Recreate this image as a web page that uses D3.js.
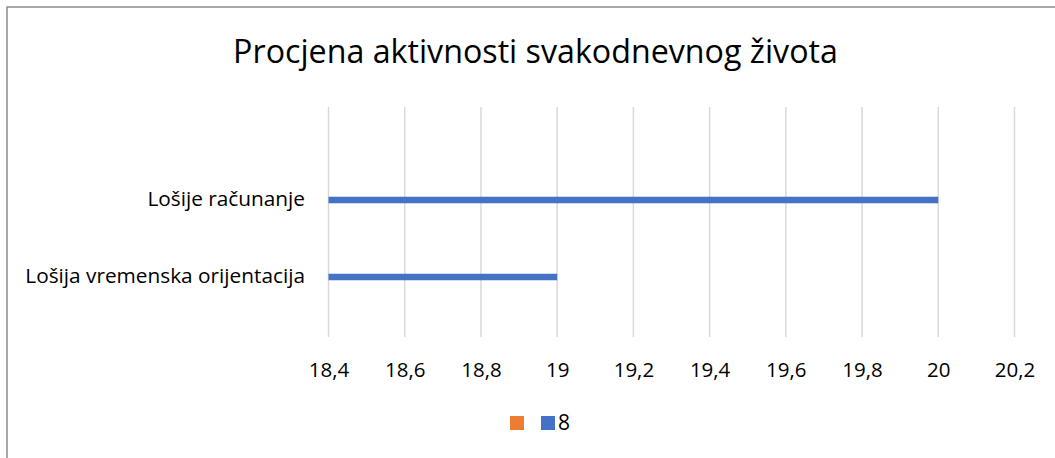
<!DOCTYPE html>
<html>
<head>
<meta charset="utf-8">
<script src="https://cdn.jsdelivr.net/npm/d3@7"></script>
<style>
  html, body { margin: 0; padding: 0; background: #fff; }
  svg { display: block; }
  text { font-family: "Open Sans", "Noto Sans", sans-serif; fill: #000; }
</style>
</head>
<body>
<svg id="chart" width="1055" height="458"></svg>
<script>
const title = "Procjena aktivnosti svakodnevnog života";
const categories = ["Lošija vremenska orijentacija", "Lošije računanje"];
const seriesNames = ["", "8"];
const seriesOrange = [null, null];
const seriesBlue = [19, 20];
const xTicks = [18.4, 18.6, 18.8, 19, 19.2, 19.4, 19.6, 19.8, 20, 20.2];
const xDomain = [18.4, 20.2];
const colors = ["#ED7D31", "#4472C4"];

const svg = d3.select("#chart");
const W = 1055, H = 458;

// outer border (only top/left visible in the frame)
svg.append("rect")
  .attr("x", 7).attr("y", 7)
  .attr("width", W + 20).attr("height", H + 20)
  .attr("fill", "#fff")
  .attr("stroke", "#8c8c8c")
  .attr("stroke-width", 1.5);

function fitText(sel, targetWidth) {
  sel.attr("font-size", 100);
  const w = sel.node().getComputedTextLength();
  sel.attr("font-size", 100 * targetWidth / w);
}

// title
const t = svg.append("text")
  .attr("x", 535.5).attr("y", 63)
  .attr("text-anchor", "middle")
  .text(title);
fitText(t, 605);

const x = d3.scaleLinear().domain(xDomain).range([328.5, 1014.5]);
const y = d3.scalePoint().domain(categories.slice().reverse()).range([200, 277]);
const gridTop = 107, gridBottom = 337;

// gridlines
svg.append("g").selectAll("line")
  .data(xTicks)
  .join("line")
  .attr("x1", d => x(d)).attr("x2", d => x(d))
  .attr("y1", gridTop).attr("y2", gridBottom)
  .attr("stroke", "#d9d9d9")
  .attr("stroke-width", 1.5);

// x axis labels via d3 axis
const axis = d3.axisBottom(x)
  .tickValues(xTicks)
  .tickSize(0)
  .tickPadding(0)
  .tickFormat(d => String(d).replace(".", ","));
const ax = svg.append("g").attr("transform", "translate(0,377)").call(axis);
ax.select(".domain").remove();
ax.selectAll("text")
  .attr("dy", 0)
  .attr("fill", "#000")
  .attr("font-family", "'Open Sans', 'Noto Sans', sans-serif")
  .attr("font-size", 20.5);

// bars
const barH = 6.5;
[seriesOrange, seriesBlue].forEach((vals, si) => {
  svg.append("g").selectAll("rect")
    .data(categories.map((c, i) => ({ c, v: vals[i] })).filter(d => d.v != null && d.v > xDomain[0]))
    .join("rect")
    .attr("x", x(xDomain[0]))
    .attr("y", d => y(d.c) - barH / 2)
    .attr("width", d => x(d.v) - x(xDomain[0]))
    .attr("height", barH)
    .attr("fill", colors[si]);
});

// category labels
const labels = svg.append("g").selectAll("text")
  .data(categories)
  .join("text")
  .attr("x", 305)
  .attr("y", d => y(d) + 6)
  .attr("text-anchor", "end")
  .text(d => d);
// size to match width of longest label
const longest = labels.filter(d => d === "Lošija vremenska orijentacija");
longest.attr("font-size", 100);
const lw = longest.node().getComputedTextLength();
labels.attr("font-size", 100 * 280 / lw);

// legend
const leg = svg.append("g");
leg.append("rect").attr("x", 510).attr("y", 416).attr("width", 14).attr("height", 14).attr("fill", colors[0]);
leg.append("rect").attr("x", 541).attr("y", 416).attr("width", 14).attr("height", 14).attr("fill", colors[1]);
leg.append("text").attr("x", 558).attr("y", 430).attr("font-size", 21).text(seriesNames[1]);
</script>
</body>
</html>
